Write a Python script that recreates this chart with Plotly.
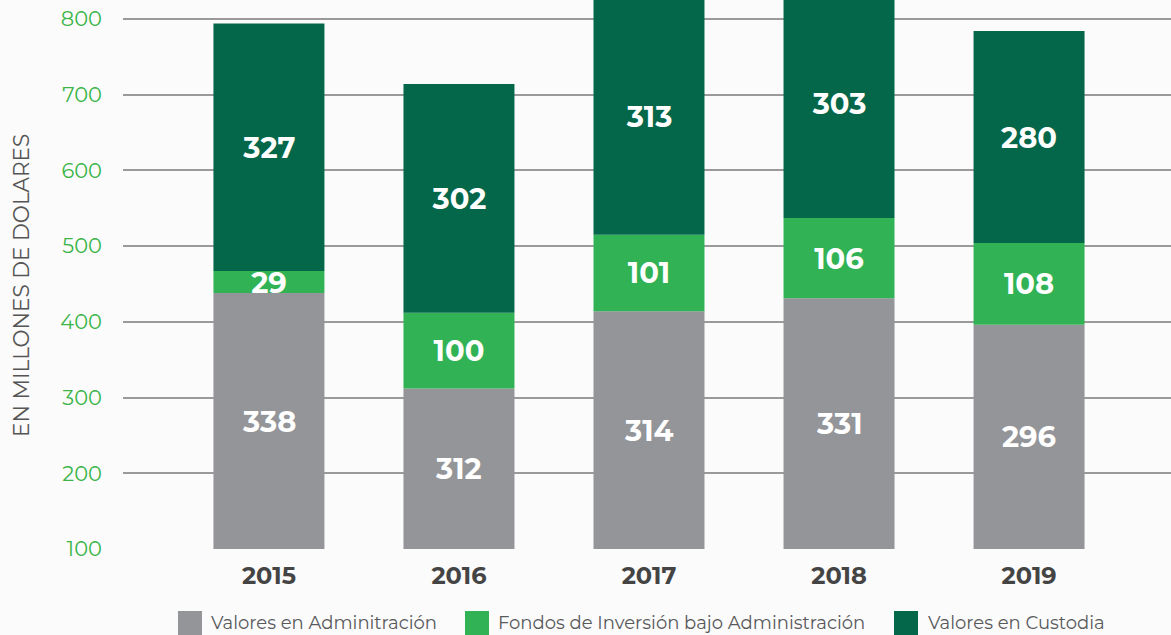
import plotly.graph_objects as go

years = ["2015", "2016", "2017", "2018", "2019"]
valores_admin = [338, 312, 314, 331, 296]
fondos_inversion = [29, 100, 101, 106, 108]
valores_custodia = [327, 302, 313, 303, 280]
bar_start = [100, 0, 100, 100, 100]  # as drawn in the original (2016 stack starts at 0)
series_names = ["Valores en Adminitración", "Fondos de Inversión bajo Administración", "Valores en Custodia"]
colors = ["#939598", "#31b355", "#04674a"]
y_ticks = [100, 200, 300, 400, 500, 600, 700, 800]

W, H = 1171, 635
ML, MR, MT, MB = 123, 0, 0, 86
PW, PH = W - ML - MR, H - MT - MB
Y_MIN, Y_MAX = 100, 825
FONT = "Montserrat, Lato, Arial"


def px_x(p):
    return (p - ML) / PW


def px_y(p):
    return (H - MB - p) / PH


x = list(range(len(years)))
base1 = list(bar_start)
base2 = [b + v for b, v in zip(base1, valores_admin)]
base3 = [b + v for b, v in zip(base2, fondos_inversion)]

fig = go.Figure()
annotations = []
for i, (vals, base, name, col) in enumerate(zip([valores_admin, fondos_inversion, valores_custodia],
                                               [base1, base2, base3], series_names, colors)):
    label_font = dict(family=FONT, size=29, color="white", weight="bold")
    if i == 0:
        # labels centred in the visible part of the bottom segment
        fig.add_trace(go.Bar(
            x=x, y=vals, base=base, name=name, marker_color=col, marker_line_width=0,
            width=0.584, textposition="none", showlegend=False, hoverinfo="skip"))
        for xi, v, b in zip(x, vals, base):
            annotations.append(dict(x=xi, y=(max(b, Y_MIN) + b + v) / 2, xref="x", yref="y",
                                    text=str(v), showarrow=False, font=label_font))
    else:
        fig.add_trace(go.Bar(
            x=x, y=vals, base=base, name=name, marker_color=col, marker_line_width=0,
            width=0.584, text=[str(v) for v in vals], textposition="inside",
            insidetextanchor="middle", textangle=0, constraintext="none",
            textfont=label_font, showlegend=False, cliponaxis=True, hoverinfo="skip"))

# legend drawn as squares + labels below the plot
legend_sq_left = [178, 465, 894]
legend_txt_left = [209, 496, 926]
shapes = []
for name, col, sq, tx in zip(series_names, colors, legend_sq_left, legend_txt_left):
    shapes.append(dict(type="rect", xref="paper", yref="paper",
                       x0=px_x(sq), x1=px_x(sq + 24), y0=px_y(635), y1=px_y(611),
                       fillcolor=col, line_width=0, layer="above"))
    annotations.append(dict(text=name, xref="paper", yref="paper", x=px_x(tx), y=px_y(623),
                            xanchor="left", yanchor="middle", showarrow=False,
                            font=dict(family=FONT, size=18, color="#58595b")))

# y-axis title
annotations.append(dict(text="EN MILLONES DE DOLARES", xref="paper", yref="paper",
                        x=px_x(21), y=px_y(286), xanchor="center", yanchor="middle",
                        textangle=-90, showarrow=False,
                        font=dict(family=FONT, size=21.5, color="#555555")))

fig.update_layout(
    width=W, height=H,
    margin=dict(l=ML, r=MR, t=MT, b=MB),
    paper_bgcolor="#fbfbfb", plot_bgcolor="#fbfbfb",
    barmode="overlay",
    showlegend=False,
    shapes=shapes, annotations=annotations,
    xaxis=dict(range=[-0.768, 4.747], tickvals=x, ticktext=years,
               tickfont=dict(family=FONT, size=24, color="#444444", weight="bold"),
               showgrid=False, zeroline=False, showline=False, ticks="", ticklabelstandoff=10),
    yaxis=dict(range=[Y_MIN, Y_MAX], tickvals=y_ticks,
               tickfont=dict(family=FONT, size=21, color="#3cb54a"),
               showgrid=True, gridcolor="#9a9a9a", gridwidth=1.5, zeroline=False,
               ticklabelstandoff=20),
)

fig.write_html("out.html")
